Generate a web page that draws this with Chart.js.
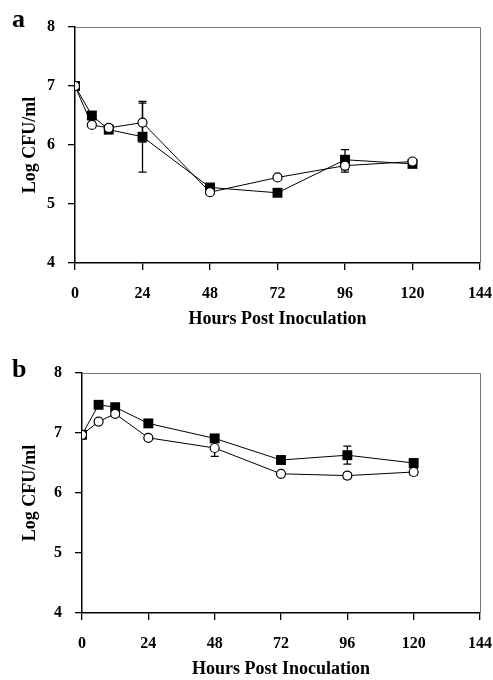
<!DOCTYPE html>
<html>
<head>
<meta charset="utf-8">
<script src="https://cdn.jsdelivr.net/npm/chart.js@4.4.1/dist/chart.umd.min.js"></script>
<style>
  body { margin: 0; background: #fff; }
  canvas { display: block; }
</style>
</head>
<body>
<canvas id="chartA" width="493" height="330"></canvas>
<canvas id="chartB" width="493" height="350"></canvas>
<script>
const hours = [0, 6, 12, 24, 48, 72, 96, 120];
const xTicks = [0, 24, 48, 72, 96, 120, 144];
const yTicks = [4, 5, 6, 7, 8];

// panel a
const aSquares = [7.0, 6.5, 6.26, 6.14, 5.28, 5.19, 5.75, 5.68];
const aSquaresErr = [0, 0.05, 0.03, 0.6, 0.05, 0.03, 0.17, 0.04];
const aCircles = [7.0, 6.34, 6.29, 6.38, 5.2, 5.45, 5.65, 5.72];
const aCirclesErr = [0, 0.03, 0.03, 0.33, 0.04, 0.02, 0.11, 0.04];

// panel b
const bSquares = [6.97, 7.47, 7.43, 7.16, 6.91, 6.55, 6.63, 6.5];
const bSquaresErr = [0, 0.04, 0.04, 0.05, 0.04, 0.03, 0.15, 0.06];
const bCircles = [6.97, 7.19, 7.32, 6.92, 6.75, 6.32, 6.29, 6.35];
const bCirclesErr = [0, 0.03, 0.03, 0.03, 0.14, 0.02, 0.05, 0.05];

const serif = "'Liberation Serif', 'Times New Roman', serif";

function toPoints(values, errs) {
  return values.map((v, i) => ({ x: hours[i], y: v, err: errs[i] }));
}

const errorBars = {
  id: 'errorBars',
  beforeDatasetsDraw(chart) {
    const ctx = chart.ctx;
    const yScale = chart.scales.y;
    ctx.save();
    ctx.strokeStyle = '#000';
    ctx.lineWidth = 1.3;
    chart.data.datasets.forEach((ds, di) => {
      const meta = chart.getDatasetMeta(di);
      meta.data.forEach((pt, i) => {
        const d = ds.data[i];
        if (!d.err) return;
        const top = yScale.getPixelForValue(d.y + d.err);
        const bot = yScale.getPixelForValue(d.y - d.err);
        ctx.beginPath();
        ctx.moveTo(pt.x, top);
        ctx.lineTo(pt.x, bot);
        ctx.moveTo(pt.x - 4, top);
        ctx.lineTo(pt.x + 4, top);
        ctx.moveTo(pt.x - 4, bot);
        ctx.lineTo(pt.x + 4, bot);
        ctx.stroke();
      });
    });
    ctx.restore();
  },
};

const frame = {
  id: 'frame',
  afterDraw(chart, args, opts) {
    const ctx = chart.ctx;
    const a = chart.chartArea;
    ctx.save();
    ctx.strokeStyle = '#777';
    ctx.lineWidth = 1;
    ctx.beginPath();
    ctx.moveTo(a.left, a.top + 0.5);
    ctx.lineTo(a.right + 0.5, a.top + 0.5);
    ctx.lineTo(a.right + 0.5, a.bottom);
    ctx.stroke();
    ctx.fillStyle = '#000';
    ctx.font = 'bold 26px ' + serif;
    ctx.textBaseline = 'alphabetic';
    ctx.fillText(opts.letter, 12, opts.letterY);
    ctx.restore();
  },
};

function makeChart(id, letter, letterY, squares, squaresErr, circles, circlesErr, leftEdge, topPad, xHeight) {
  const ctx = document.getElementById(id);
  return new Chart(ctx, {
    type: 'line',
    data: {
      datasets: [
        {
          data: toPoints(circles, circlesErr),
          borderColor: '#000',
          borderWidth: 1,
          pointStyle: 'circle',
          pointRadius: 4.5,
          pointBackgroundColor: '#fff',
          pointBorderColor: '#000',
          pointBorderWidth: 1.2,
        },
        {
          data: toPoints(squares, squaresErr),
          borderColor: '#000',
          borderWidth: 1,
          pointStyle: 'rect',
          pointRadius: 7,
          pointBackgroundColor: '#000',
          pointBorderColor: '#000',
          pointBorderWidth: 0,
        },
      ],
    },
    options: {
      responsive: false,
      animation: false,
      layout: { padding: { left: 20, top: topPad, right: 13, bottom: 0 } },
      scales: {
        x: {
          type: 'linear',
          min: 0,
          max: 144,
          afterBuildTicks: (s) => { s.ticks = xTicks.map(v => ({ value: v })); },
          afterFit: (s) => { s.height = xHeight; s.paddingRight = 0; s.paddingLeft = 0; },
          grid: { display: true, drawOnChartArea: false, color: '#000', tickLength: 7, lineWidth: 1.3 },
          border: { color: '#000', width: 1.5 },
          ticks: { color: '#000', padding: 14, maxRotation: 0, font: { family: serif, size: 16, weight: 'bold' } },
          title: { display: true, text: 'Hours Post Inoculation', color: '#000', padding: { top: 0, bottom: 0 }, font: { family: serif, size: 18, weight: 'bold' } },
        },
        y: {
          min: 4,
          max: 8,
          afterBuildTicks: (s) => { s.ticks = yTicks.map(v => ({ value: v })); },
          afterFit: (s) => { s.width = leftEdge - 20; s.paddingTop = 0; s.paddingBottom = 0; },
          grid: { display: true, drawOnChartArea: false, color: '#000', tickLength: 7, lineWidth: 1.3 },
          border: { color: '#000', width: 1.5 },
          ticks: { color: '#000', padding: 13, font: { family: serif, size: 16, weight: 'bold' } },
          title: { display: true, text: 'Log CFU/ml', color: '#000', padding: 0, font: { family: serif, size: 18, weight: 'bold' } },
        },
      },
      plugins: {
        legend: { display: false },
        tooltip: { enabled: false },
        frame: { letter, letterY },
      },
    },
    plugins: [errorBars, frame],
  });
}

makeChart('chartA', 'a', 27, aSquares, aSquaresErr, aCircles, aCirclesErr, 75, 27, 67);
makeChart('chartB', 'b', 47, bSquares, bSquaresErr, bCircles, bCirclesErr, 82, 43, 67);
</script>
</body>
</html>
